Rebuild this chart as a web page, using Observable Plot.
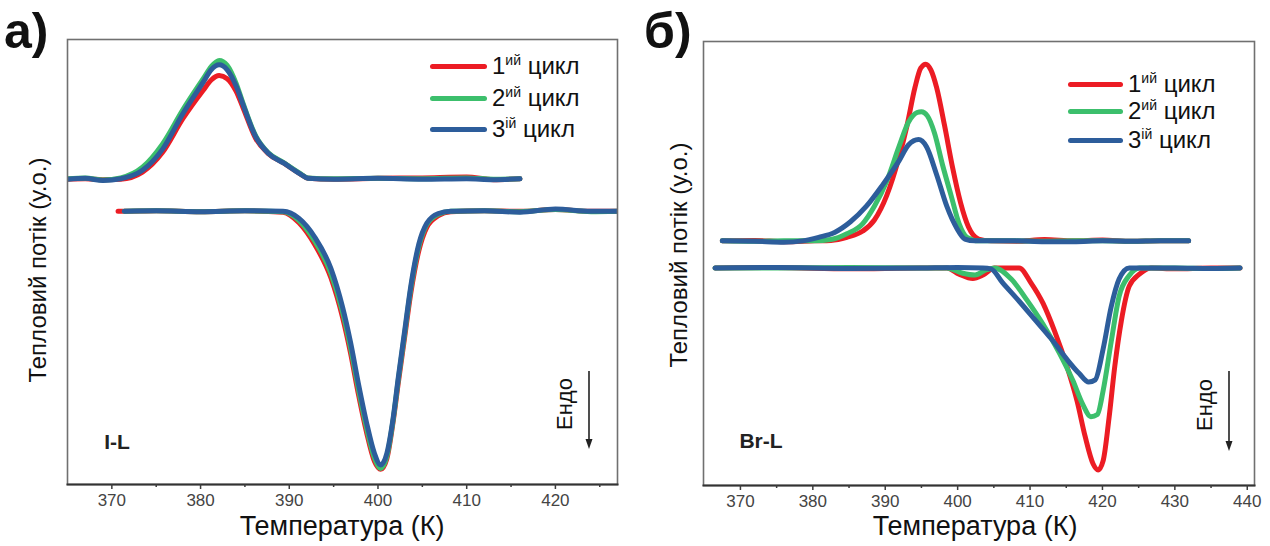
<!DOCTYPE html>
<html><head><meta charset="utf-8">
<script src="https://cdn.jsdelivr.net/npm/d3@7"></script>
<script src="https://cdn.jsdelivr.net/npm/@observablehq/plot@0.6"></script>
<style>
body{margin:0;background:#fff;font-family:"Liberation Sans",Arial,sans-serif;color:#111;}
#wrap{position:relative;width:1270px;height:546px;overflow:hidden;background:#fff;}
#wrap svg text{font-size:17px !important;font-family:"Liberation Sans",Arial,sans-serif;}
.abs{position:absolute;white-space:nowrap;line-height:1;}
.plot{position:absolute;top:0;}
.rot{transform:translate(-50%,-50%) rotate(-90deg);}
.ctr{transform:translate(-50%,-50%);}
.lg{position:absolute;display:flex;align-items:center;height:28px;white-space:nowrap;}
.sw{display:inline-block;height:5px;border-radius:3px;}
.lt{font-size:24px;margin-left:5px;color:#111;}
.sup{font-size:14px;position:relative;top:-9px;}
</style></head>
<body><div id="wrap"></div>
<script>
// ---- series metadata ----
const cycleNum = ["1", "2", "3"];
const cycleSuffix = ["ий", "ий", "ій"];
const cycleWord = "цикл";
const cycleKeys = ["c1", "c2", "c3"];
const cycleColors = ["#ec1c24", "#3cbf6c", "#2d5d9b"];

// ---- panel a) I-L : cooling (upper) ----
const IL_coolT = [365, 367, 369, 371, 373.45, 375.7, 378, 380.3, 381.2, 382.1, 383, 384, 384.8, 386.2, 387.6, 389.4, 391.3, 392.1, 395, 400, 405, 410, 413, 416];
const IL_cool1 = [68.6, 68.7, 68.5, 68.6, 70.2, 74.6, 82.2, 88.6, 90.9, 91.9, 91.2, 88.4, 84.6, 77.8, 74.4, 72.2, 69.7, 68.8, 68.6, 68.8, 68.9, 69.1, 68.5, 68.7];
const IL_cool2 = [68.7, 68.9, 68.4, 68.9, 71.3, 76.5, 84.2, 91.2, 93.9, 95.3, 94.2, 90.2, 85.6, 78.4, 74.6, 72.3, 69.8, 68.9, 68.7, 68.8, 68.7, 68.9, 68.6, 68.7];
const IL_cool3 = [68.6, 68.8, 68.3, 68.7, 70.6, 75.3, 83.3, 90.4, 93.2, 94.3, 93.2, 89.6, 85.3, 78.2, 74.5, 72.2, 69.7, 68.8, 68.6, 68.8, 68.6, 68.7, 68.5, 68.7];

// ---- panel a) I-L : heating (lower) ----
const IL_heatT = [370.7, 371.4, 375, 380, 385, 389.3, 391.1, 392.9, 394.7, 396.0, 396.9, 397.8, 398.7, 399.6, 400.3, 401.0, 401.7, 402.3, 403.0, 403.7, 404.6, 405.5, 406.8, 408.2, 412, 416, 420, 424, 427];
const IL_heat1 = [61.4, 61.4, 61.5, 61.3, 61.5, 61.2, 58.8, 53.8, 46.4, 37.6, 29.6, 20.2, 11.8, 5.2, 3.4, 5.8, 14.0, 23.0, 33.0, 43.0, 52.5, 57.8, 60.4, 61.3, 61.5, 61.4, 61.8, 61.4, 61.4];
const IL_heat2 = [null, 61.4, 61.5, 61.3, 61.5, 61.3, 59.3, 54.6, 47.4, 38.8, 30.8, 21.4, 12.8, 6.0, 3.6, 6.3, 14.4, 23.7, 33.8, 44.0, 53.4, 58.4, 60.7, 61.4, 61.5, 61.3, 61.8, 61.3, 61.4];
const IL_heat3 = [null, 61.4, 61.5, 61.3, 61.5, 61.4, 59.8, 55.5, 48.5, 39.9, 32.0, 22.6, 14.0, 7.0, 4.4, 7.0, 14.8, 24.2, 34.4, 44.6, 54.0, 58.7, 60.9, 61.4, 61.5, 61.2, 61.9, 61.4, 61.4];

// ---- panel б) Br-L : cooling (upper) ----
const Br_cool1T = [367.5, 372, 376, 380.2, 382.5, 384.7, 386.9, 388.5, 390.2, 391.9, 393.0, 394.1, 394.9, 395.6, 396.3, 397.1, 398.2, 399.3, 400.4, 401.5, 402.9, 404.6, 408, 412, 416, 420, 424, 428, 431.9];
const Br_cool1 = [55.1, 55.2, 54.9, 55.1, 55.2, 55.9, 57.3, 59.8, 65.3, 73.9, 81.0, 89.6, 94.0, 94.9, 93.6, 89.6, 81.0, 71.6, 63.7, 58.2, 55.5, 55.1, 55.0, 55.4, 55.1, 55.3, 55.0, 55.1, 55.1];
const Br_cool2T = [367.5, 372, 376, 380.2, 382.5, 384.7, 386.9, 388.5, 390.2, 391.9, 393.2, 394.4, 395.0, 395.8, 396.8, 397.9, 399.1, 400.2, 401.3, 402.9, 408, 412, 416, 420, 424, 428, 431.9];
const Br_cool2 = [55.1, 55.0, 55.1, 55.1, 55.4, 56.7, 59.0, 62.9, 68.5, 76.3, 81.8, 84.0, 84.2, 83.3, 79.4, 72.3, 65.3, 59.0, 55.9, 55.1, 55.1, 55.0, 55.1, 55.1, 55.0, 55.1, 55.1];
const Br_cool3T = [367.5, 372, 376, 378.6, 380.8, 383.0, 385.2, 387.4, 389.6, 391.9, 393.2, 394.6, 395.7, 397.1, 398.5, 399.9, 401.0, 402.4, 408, 412, 416, 420, 424, 428, 431.9];
const Br_cool3 = [55.1, 55.0, 54.8, 55.1, 55.9, 57.0, 59.4, 62.9, 67.6, 73.1, 76.7, 77.9, 76.3, 70.0, 62.9, 57.9, 55.5, 55.1, 55.1, 54.9, 54.9, 55.1, 55.0, 55.1, 55.1];

// ---- panel б) Br-L : heating (lower) ----
const Br_heat1T = [366.5, 375, 385, 395, 398.5, 400.2, 402.1, 403.5, 405.1, 408.5, 410.1, 411.8, 413.4, 415.1, 416.5, 417.6, 418.7, 419.4, 420.1, 420.9, 421.7, 422.6, 423.7, 425.1, 426.7, 430, 435, 439];
const Br_heat1 = [49.0, 49.1, 48.8, 49.0, 49.0, 47.6, 46.6, 47.4, 49.0, 49.0, 45.7, 41.0, 34.7, 26.8, 19.0, 11.1, 4.9, 3.5, 5.6, 15.1, 26.8, 37.0, 44.9, 47.6, 49.0, 48.8, 49.0, 49.0];
const Br_heat2T = [366.5, 375, 385, 395, 398.5, 400.7, 402.4, 404.0, 405.1, 407.4, 409.6, 411.8, 414.0, 415.9, 417.3, 418.4, 419.3, 420.1, 421.2, 422.3, 423.7, 425.1, 430, 435, 439];
const Br_heat2 = [49.0, 49.0, 49.1, 49.0, 49.0, 47.8, 47.4, 48.6, 49.0, 46.5, 41.7, 36.3, 30.0, 23.7, 18.2, 15.5, 16.0, 21.4, 32.3, 42.6, 47.3, 49.0, 49.0, 48.9, 49.0];
const Br_heat3T = [366.5, 375, 385, 395, 400, 403.5, 404.6, 406.2, 408.5, 410.7, 412.9, 415.1, 416.8, 418.1, 419.0, 420.1, 421.2, 422.3, 423.7, 430, 435, 439];
const Br_heat3 = [49.0, 49.1, 48.9, 49.0, 49.1, 49.0, 48.8, 45.7, 41.5, 37.3, 33.1, 28.4, 25.2, 23.3, 23.8, 30.8, 40.2, 46.5, 49.0, 49.0, 48.9, 49.0];

// ---- axes ----
const IL_domain = [365, 427];
const IL_major = [370, 380, 390, 400, 410, 420];
const IL_minor = [375, 385, 395, 405, 415, 425];
const Br_domain = [364.9, 441];
const Br_major = [370, 380, 390, 400, 410, 420, 430, 440];
const Br_minor = [375, 385, 395, 405, 415, 425, 435];

const xTitle = "Температура (К)";
const yTitle = "Тепловий потік (у.о.)";
const endo = "Ендо";

function rows(branch, cycle, T, Q) {
  const out = [];
  T.forEach((t, i) => { if (Q[i] != null) out.push({T: t, q: Q[i], cycle, id: branch + cycle}); });
  return out;
}
const ILdata = [
  ...rows("cool", "c1", IL_coolT, IL_cool1), ...rows("cool", "c2", IL_coolT, IL_cool2), ...rows("cool", "c3", IL_coolT, IL_cool3),
  ...rows("heat", "c1", IL_heatT, IL_heat1), ...rows("heat", "c2", IL_heatT, IL_heat2), ...rows("heat", "c3", IL_heatT, IL_heat3)
];
const Brdata = [
  ...rows("cool", "c1", Br_cool1T, Br_cool1), ...rows("cool", "c2", Br_cool2T, Br_cool2), ...rows("cool", "c3", Br_cool3T, Br_cool3),
  ...rows("heat", "c1", Br_heat1T, Br_heat1), ...rows("heat", "c2", Br_heat2T, Br_heat2), ...rows("heat", "c3", Br_heat3T, Br_heat3)
];

function panel(data, domain, majors, minors, m) {
  return Plot.plot({
    width: 635, height: 546,
    marginLeft: m[0], marginRight: m[1], marginTop: m[2], marginBottom: m[3],
    style: {fontFamily: '"Liberation Sans", Arial, sans-serif', fontSize: "17px", color: "#3c3c3c", background: "transparent", overflow: "visible"},
    x: {domain},
    y: {domain: [0, 100], axis: null},
    color: {domain: cycleKeys, range: cycleColors},
    marks: [
      Plot.line(data, {x: "T", y: "q", z: "id", stroke: "cycle", strokeWidth: 5, curve: "monotone-x", strokeLinecap: "round", strokeLinejoin: "round", clip: true}),
      Plot.frame({stroke: "#707070", strokeWidth: 1.6}),
      Plot.frame({anchor: "bottom", stroke: "#333", strokeWidth: 2}),
      Plot.axisX({ticks: minors, tickSize: 3, fill: "none", label: null, strokeWidth: 1.5}),
      Plot.axisX({ticks: majors, tickSize: 5, tickPadding: 4, label: null, strokeWidth: 1.5, fontSize: 17, fill: "#444"})
    ]
  });
}

const wrap = document.getElementById("wrap");
const pA = panel(ILdata, IL_domain, IL_major, IL_minor, [67, 18, 39, 62]);
pA.classList.add("plot"); pA.style.left = "0px"; wrap.appendChild(pA);
const pB = panel(Brdata, Br_domain, Br_major, Br_minor, [68, 16, 41, 61]);
pB.classList.add("plot"); pB.style.left = "635px"; wrap.appendChild(pB);

function addText(txt, cls, style) {
  const d = document.createElement("div");
  d.className = "abs " + (cls || "");
  d.textContent = txt;
  Object.assign(d.style, style);
  wrap.appendChild(d);
  return d;
}
// panel letters
addText("а)", "", {left: "4px", top: "4px", fontSize: "50px", fontWeight: "bold", lineHeight: "1.1"});
addText("б)", "", {left: "644px", top: "4px", fontSize: "50px", fontWeight: "bold", lineHeight: "1.1"});
// axis titles
addText(xTitle, "ctr", {left: "342px", top: "526px", fontSize: "27px"});
addText(xTitle, "ctr", {left: "975px", top: "526px", fontSize: "27px"});
addText(yTitle, "rot", {left: "38px", top: "270px", fontSize: "24px"});
addText(yTitle, "rot", {left: "679px", top: "255px", fontSize: "24px"});
// sample labels
addText("I-L", "ctr", {left: "117px", top: "441px", fontSize: "21px", fontWeight: "bold", color: "#222"});
addText("Br-L", "ctr", {left: "761px", top: "440px", fontSize: "21px", fontWeight: "bold", color: "#222"});
// endo
addText(endo, "rot", {left: "565px", top: "404px", fontSize: "22px"});
addText(endo, "rot", {left: "1205px", top: "405px", fontSize: "22px"});
function arrow(x, y1, y2) {
  const ns = "http://www.w3.org/2000/svg";
  const s = document.createElementNS(ns, "svg");
  s.setAttribute("width", 12); s.setAttribute("height", y2 - y1 + 2);
  s.style.position = "absolute"; s.style.left = (x - 6) + "px"; s.style.top = y1 + "px";
  const l = document.createElementNS(ns, "line");
  l.setAttribute("x1", 6); l.setAttribute("x2", 6); l.setAttribute("y1", 0); l.setAttribute("y2", y2 - y1 - 8);
  l.setAttribute("stroke", "#222"); l.setAttribute("stroke-width", 1.6);
  const p = document.createElementNS(ns, "polygon");
  p.setAttribute("points", `2.5,${y2 - y1 - 10} 9.5,${y2 - y1 - 10} 6,${y2 - y1}`);
  p.setAttribute("fill", "#222");
  s.appendChild(l); s.appendChild(p); wrap.appendChild(s);
}
arrow(589, 371, 449);
arrow(1229, 371, 451);

// legends
function legend(x, ys, lineW) {
  cycleKeys.forEach((k, i) => {
    const d = document.createElement("div");
    d.className = "lg";
    d.style.left = x + "px"; d.style.top = (ys[i] - 14) + "px";
    const sw = document.createElement("span");
    sw.className = "sw"; sw.style.width = lineW + "px"; sw.style.background = cycleColors[i];
    const t = document.createElement("span");
    t.className = "lt";
    t.append(cycleNum[i]);
    const sp = document.createElement("span"); sp.className = "sup"; sp.textContent = cycleSuffix[i];
    t.append(sp, " " + cycleWord);
    d.append(sw, t);
    wrap.appendChild(d);
  });
}
legend(430, [66, 98, 129], 57);
legend(1068, [84, 111, 140], 55);
</script>
</body></html>
